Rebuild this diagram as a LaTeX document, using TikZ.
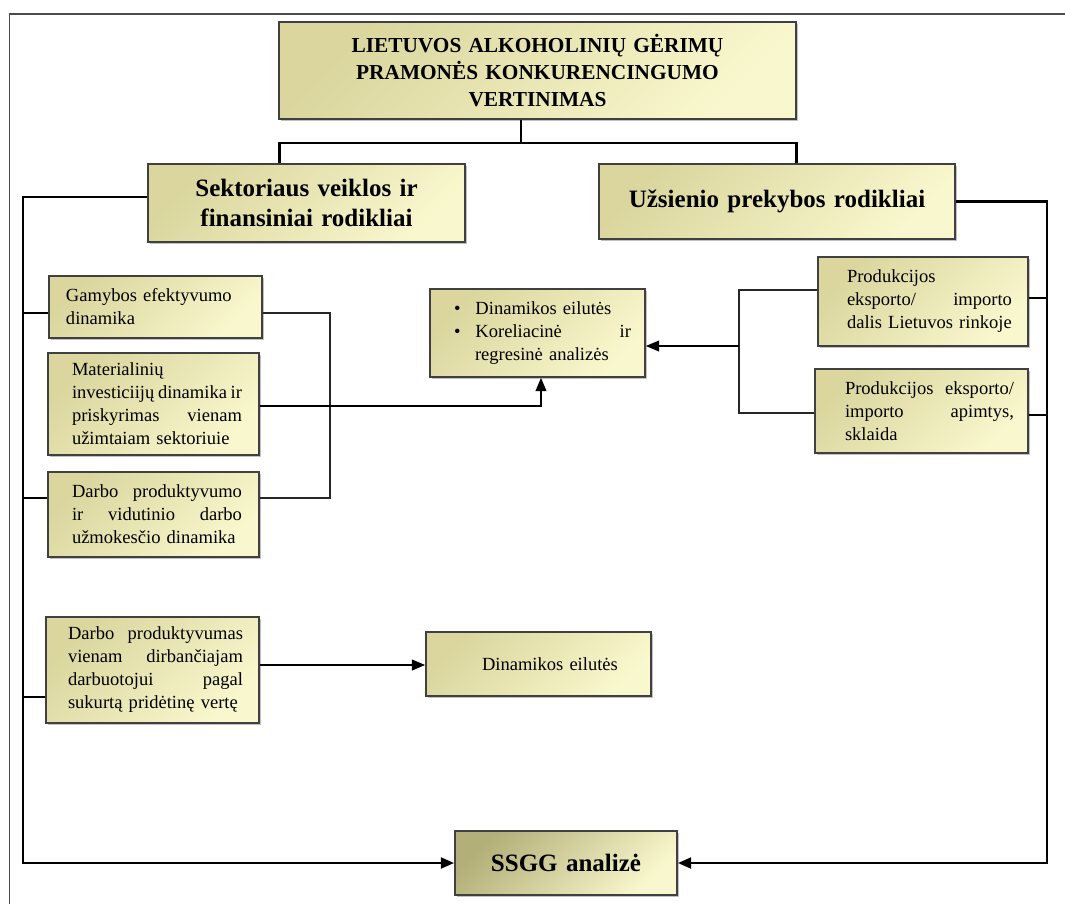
\documentclass[tikz,border=0pt]{standalone}
\usepackage{fontspec}
\setmainfont{Liberation Serif}
\usetikzlibrary{arrows.meta,calc,shadows}
\newdimen\pxu \pxu=0.75pt
\newdimen\padL \newdimen\padR
\newcommand\jrow[1]{\hbox to\hsize{\hskip\padL\relax #1\hskip\padR\relax}}
\newcommand\lrow[1]{\hbox to\hsize{\hskip\padL\relax #1\hfil\hskip\padR\relax}}
\hbadness=10000 \hfuzz=6pt
\definecolor{bxdark}{HTML}{DAD69E}
\definecolor{bxlight}{HTML}{F9F7CD}
\definecolor{ssdark}{HTML}{B3AF78}
\tikzset{
  box/.style={draw=black!75, line width=1.2pt, top color=bxdark, bottom color=bxlight,
    shading angle=45, inner sep=0pt,
    drop shadow={shadow xshift=1.2pt, shadow yshift=-1.2pt, fill=black!35, opacity=0.7}},
  head/.style={font=\bfseries\fontsize{18.75}{22.5}\selectfont, align=center},
  conn/.style={line width=2.2pt, black},
  mid/.style={line width=1.5pt, black},
  thinl/.style={line width=0.9pt, black!85},
  arr/.style={-{Triangle[length=10pt,width=8pt]}},
}
\begin{document}
\begin{tikzpicture}[x=0.75pt, y=-0.75pt, font=\fontsize{13.9}{17.25}\selectfont]
\useasboundingbox (0,0) rectangle (1065,904);
% outer frame (top and left edges)
\draw[line width=1.4pt, black!70] (9.5,904) -- (9.5,14) -- (1065,14);

% nodes
\node[box, text width=517\pxu, minimum height=97\pxu, align=center,
  font=\bfseries\fontsize{16}{20.25}\selectfont] (title) at (537.5,70.5)
  {LIETUVOS ALKOHOLINIŲ GĖRIMŲ\\PRAMONĖS KONKURENCINGUMO\\VERTINIMAS};
\node[box, head, text width=317\pxu, minimum height=78\pxu] (sek) at (306.5,203)
  {Sektoriaus veiklos ir\\finansiniai rodikliai};
\node[box, head, text width=356\pxu, minimum height=75\pxu] (uz) at (777,201.5)
  {Užsienio prekybos rodikliai};

\node[box, text width=213\pxu, minimum height=62\pxu] (gam) at (155.5,307)
  {\vbox{\padL=17\pxu \padR=17\pxu
   \lrow{Gamybos efektyvumo}\lrow{dinamika}}};
\node[box, text width=211\pxu, minimum height=102\pxu] (mat) at (153.5,404)
  {\vbox{\padL=24\pxu \padR=17\pxu
   \lrow{Materialinių}\jrow{investiciijų\hfill dinamika\hfill ir}\jrow{priskyrimas\hfill vienam}\lrow{užimtaiam sektoriuie}}};
\node[box, text width=211\pxu, minimum height=85\pxu] (dpv) at (153.5,514.5)
  {\vbox{\padL=24\pxu \padR=17\pxu
   \jrow{Darbo\hfill produktyvumo}\jrow{ir\hfill vidutinio\hfill darbo}\lrow{užmokesčio dinamika}}};
\node[box, text width=213\pxu, minimum height=106\pxu] (dps) at (152.5,670)
  {\vbox{\padL=22\pxu \padR=16\pxu
   \jrow{Darbo\hfill produktyvumas}\jrow{vienam\hfill dirbančiajam}\jrow{darbuotojui\hfill pagal}\lrow{sukurtą pridėtinę vertę}}};

\node[box, text width=215\pxu, minimum height=88\pxu] (dyn1) at (537.5,333)
  {\vbox{\padL=24\pxu \padR=14\pxu
   \lrow{\textbullet\hskip 15\pxu Dinamikos eilutės}
   \jrow{\textbullet\hskip 15\pxu Koreliacinė\hfill ir}
   \lrow{\hskip 21\pxu regresinė analizės}}};
\node[box, text width=225\pxu, minimum height=64\pxu] (dyn2) at (538.5,664)
  {\vbox{\padL=56\pxu \padR=10\pxu \lrow{Dinamikos eilutės}}};

\node[box, text width=210\pxu, minimum height=89\pxu] (p1) at (923,301.5)
  {\vbox{\padL=29\pxu \padR=16\pxu
   \lrow{Produkcijos}\jrow{eksporto/\hfill importo}\lrow{dalis Lietuvos rinkoje}}};
\node[box, text width=213\pxu, minimum height=84\pxu] (p2) at (921.5,411)
  {\vbox{\padL=30\pxu \padR=14\pxu
   \jrow{Produkcijos\hfill eksporto/}\jrow{importo\hfill apimtys,}\lrow{sklaida}}};

\node[box, head, top color=ssdark, bottom color=bxlight, shading angle=45,
  text width=222\pxu, minimum height=64\pxu] (ssgg) at (566,863) {SSGG analizė};

% junction coordinates
\coordinate (tj) at (521,143);
\coordinate (lt) at (23,863);
\coordinate (rt) at (1047,863);
\coordinate (gj) at (23,313);
\coordinate (dvj) at (23,498);
\coordinate (dsj) at (23,697);
\coordinate (p1j) at (1047,298);
\coordinate (p2j) at (1047,415);
\coordinate (lb1) at (330,313);
\coordinate (lb2) at (330,498);
\coordinate (mj) at (541,406);
\coordinate (rb1) at (739,290);
\coordinate (rb2) at (739,413);
\coordinate (ra) at (739,346);
\coordinate (dj) at (340,665);

% connectors
\draw[conn] (title.south -| tj) -- (tj);
\draw[conn] ($(sek.north west)+(132,0)$) |- (tj) -| ($(uz.north west)+(198,0)$);
\draw[conn, arr] ($(sek.west)+(0,-6)$) -| (lt) -- (ssgg.west);
\draw[conn, arr] (uz.east) -| (rt) -- (ssgg.east);
\draw[conn] (gj) -- (gj -| gam.west);
\draw[conn] (dvj) -- (dvj -| dpv.west);
\draw[conn] (dsj) -- (dsj -| dps.west);
\draw[conn] (p1j) -- (p1j -| p1.east);
\draw[conn] (p2j) -- (p2j -| p2.east);
\draw[thinl] (lb1 -| gam.east) -- (lb1) -- (lb2) -- (lb2 -| dpv.east);
\draw[mid, arr] (mj -| mat.east) -- (mj) -- (dyn1.south -| mj);
\draw[thinl] (rb1 -| p1.west) -- (rb1) -- (rb2) -- (rb2 -| p2.west);
\draw[mid, arr] (ra) -- (ra -| dyn1.east);
\draw[mid, arr] (dj -| dps.east) -- (dj -| dyn2.west);
\end{tikzpicture}
\end{document}
